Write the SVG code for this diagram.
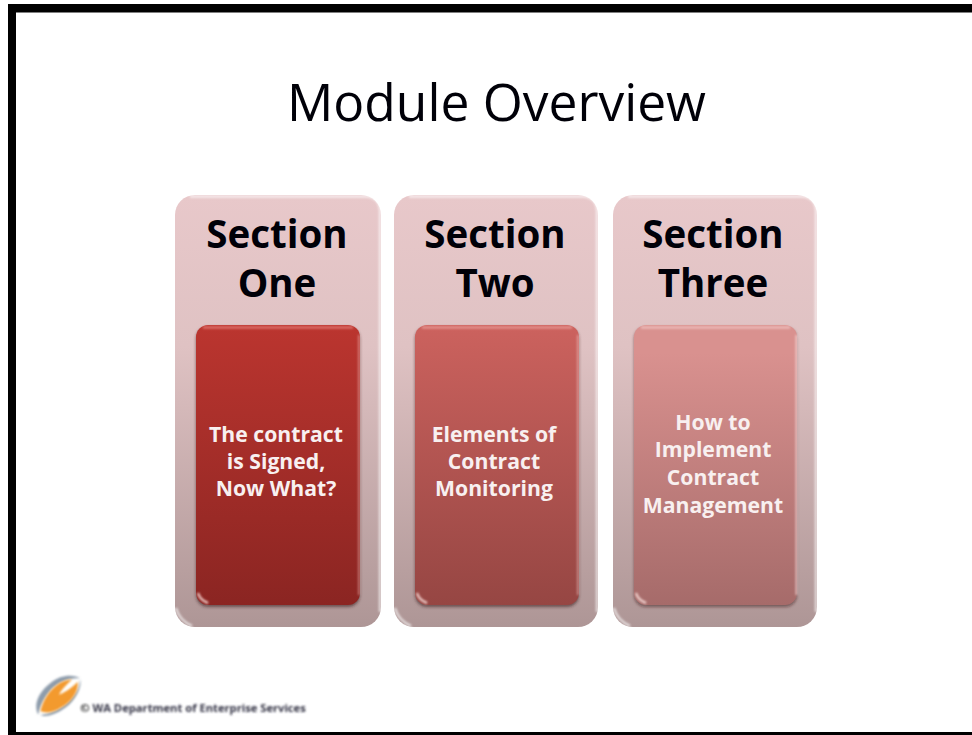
<svg xmlns="http://www.w3.org/2000/svg" width="972" height="735" viewBox="0 0 972 735">
<style>
text{font-family:"Open Sans","Noto Sans","Liberation Sans",sans-serif;text-anchor:middle}
.h{font-size:38.500px;font-weight:700;fill:#000008}
.b{font-size:21.200px;font-weight:700;fill:#f8f0f0}
.o{fill:url(#outer)}
.edge{fill:none;stroke:#fff;stroke-opacity:.65;stroke-width:2.500;filter:url(#soft)}
.hl{fill:none;filter:url(#soft);stroke-opacity:.8}
</style>
<defs>
<linearGradient id="outer" x1="0" y1="0" x2="0" y2="1"><stop offset="0" stop-color="#e8c8ca"/><stop offset=".35" stop-color="#dfc2c3"/><stop offset="1" stop-color="#ae9696"/></linearGradient>
<linearGradient id="g1" x1="0" y1="0" x2="0" y2="1"><stop offset="0" stop-color="#bb352f"/><stop offset="1" stop-color="#8b2522"/></linearGradient>
<linearGradient id="g2" x1="0" y1="0" x2="0" y2="1"><stop offset="0" stop-color="#cc625e"/><stop offset="1" stop-color="#964643"/></linearGradient>
<linearGradient id="g3" x1="0" y1="0" x2="0" y2="1"><stop offset=".1" stop-color="#d9918f"/><stop offset="1" stop-color="#a66b6a"/></linearGradient>
<filter id="sh" filterUnits="userSpaceOnUse" x="0" y="0" width="972" height="735"><feGaussianBlur stdDeviation="1.500"/></filter>
<filter id="soft" filterUnits="userSpaceOnUse" x="0" y="0" width="972" height="735"><feGaussianBlur stdDeviation="0.800"/></filter>
</defs>
<rect width="972" height="735" fill="#fff"/>
<path d="M8 735V4H972V12.500H16V732H972V735Z" fill="#000"/>
<text id="title" x="496.500" y="120.500" style="font-size:51.500px;font-weight:400" fill="#000008">Module Overview</text>
<g id="col1">
<rect class="o" x="175" y="195" width="206" height="432" rx="20"/>
<path class="edge" d="M190 196.500H366Q379 197 380 210V612"/>
<path class="edge" d="M176 608Q179 620 192 626"/>
<text class="h" x="277" y="248">Section</text><text class="h" x="277" y="297">One</text>
<rect x="196" y="327" width="164" height="280" rx="12" fill="#3a1a1a" fill-opacity=".6" filter="url(#sh)"/>
<rect x="196" y="325" width="164" height="280" rx="12" fill="url(#g1)"/>
<path class="hl" d="M203 327.500H353" stroke="#ef8d87" stroke-width="2"/>
<path class="hl" d="M359 335V595" stroke="#f4c8c4" stroke-width="1.200"/>
<path class="hl" d="M198 593Q200 600 208 603" stroke="#ffe6e2" stroke-width="2.500"/>
<text class="b" x="276" y="442">The contract</text><text class="b" x="276" y="469">is Signed,</text><text class="b" x="276" y="496">Now What?</text>
</g>
<g id="col2">
<rect class="o" x="394" y="195" width="204" height="432" rx="20"/>
<path class="edge" d="M409 196.500H583Q596 197 597 210V612"/>
<path class="edge" d="M395 608Q398 620 411 626"/>
<text class="h" x="495" y="248">Section</text><text class="h" x="495" y="297">Two</text>
<rect x="415" y="327" width="164" height="280" rx="12" fill="#3a1a1a" fill-opacity=".6" filter="url(#sh)"/>
<rect x="415" y="325" width="164" height="280" rx="12" fill="url(#g2)"/>
<path class="hl" d="M422 327.500H572" stroke="#f2aaa6" stroke-width="2"/>
<path class="hl" d="M578 335V595" stroke="#f6d4d2" stroke-width="1.200"/>
<path class="hl" d="M417 593Q419 600 427 603" stroke="#ffe6e2" stroke-width="2.500"/>
<text class="b" x="494" y="442">Elements of</text><text class="b" x="494" y="469">Contract</text><text class="b" x="494" y="496">Monitoring</text>
</g>
<g id="col3">
<rect class="o" x="613" y="195" width="204" height="432" rx="20"/>
<path class="edge" d="M628 196.500H802Q815 197 816 210V612"/>
<path class="edge" d="M614 608Q617 620 630 626"/>
<text class="h" x="713" y="248">Section</text><text class="h" x="713" y="297">Three</text>
<rect x="634" y="327" width="163" height="280" rx="12" fill="#3a1a1a" fill-opacity=".5" filter="url(#sh)"/>
<rect x="634" y="325" width="163" height="280" rx="12" fill="url(#g3)"/>
<path class="hl" d="M641 327.500H790" stroke="#f8cfcd" stroke-width="2"/>
<path class="hl" d="M796.500 335V595" stroke="#fbe6e6" stroke-width="1.600"/>
<path class="hl" d="M636 593Q638 600 646 603" stroke="#ffe6e2" stroke-width="2.500"/>
<text class="b" x="713" y="430">How to</text><text class="b" x="713" y="457">Implement</text><text class="b" x="713" y="485">Contract</text><text class="b" x="713" y="513">Management</text>
</g>
<g id="logo">
<g transform="translate(58 696.500) scale(1.100) translate(-58 -696.500)">
<path d="M40 713C34 702 44 686 60 679C66 677 74 677 78 680C70 679 60 682 52 690C46 697 42 704 40 713Z" fill="#8e9cac" filter="url(#soft)"/>
<path d="M42 713C46 716 58 713 68 704C76 696 80 686 78 681C78 690 70 702 58 708C52 711 46 713 42 713Z" fill="#8e9cac" filter="url(#soft)"/>
<path d="M42 710C44 700 50 690 60 684C64 682 68 681 71 681C65 686 60 692 59 695C63 693 69 690 76 683C77 692 70 702 60 707C54 711 47 712 42 710Z" fill="#f39a2e" filter="url(#soft)"/>
</g>
<text x="193" y="712" style="font-size:11.200px;font-weight:700" fill="#334" filter="url(#soft)"><tspan fill="#111">©</tspan> WA Department of Enterprise Services</text>
</g>
</svg>
